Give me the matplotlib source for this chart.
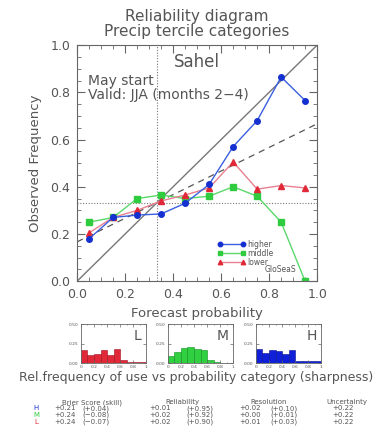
import numpy as np
import matplotlib.pyplot as plt
from matplotlib.ticker import MultipleLocator

# Forecast probability bins (bin centres)
prob = [0.05, 0.15, 0.25, 0.35, 0.45, 0.55, 0.65, 0.75, 0.85, 0.95]

# Observed frequency per bin for each tercile category
obs_higher = [0.18, 0.27, 0.28, 0.285, 0.33, 0.41, 0.57, 0.68, 0.865, 0.765]
obs_middle = [0.25, 0.27, 0.35, 0.365, 0.35, 0.36, 0.40, 0.36, 0.25, 0.0]
obs_lower = [0.205, 0.27, 0.30, 0.34, 0.365, 0.395, 0.505, 0.39, 0.405, 0.395]

# Relative frequency of use (sharpness) per bin
use_lower = [0.17, 0.11, 0.12, 0.17, 0.11, 0.18, 0.04, 0.013, 0.013, 0.01]
use_middle = [0.085, 0.14, 0.19, 0.21, 0.175, 0.165, 0.04, 0.017, 0.005, 0.0]
use_higher = [0.175, 0.13, 0.165, 0.15, 0.115, 0.17, 0.026, 0.026, 0.026, 0.026]

# Score table
cats = ["H", "M", "L"]
brier = ["+0.21", "+0.24", "+0.24"]
brier_skill = ["(+0.04)", "(\u22120.08)", "(\u22120.07)"]
reliab = ["+0.01", "+0.02", "+0.02"]
reliab_skill = ["(+0.95)", "(+0.92)", "(+0.90)"]
resol = ["+0.02", "+0.00", "+0.01"]
resol_skill = ["(+0.10)", "(+0.01)", "(+0.03)"]
uncert = ["+0.22", "+0.22", "+0.22"]

clim = 1.0 / 3.0
grey = "#555555"
blue = "#1530d0"
green = "#30cc40"
red = "#e02838"

plt.rcParams["font.family"] = "DejaVu Sans"
plt.rcParams["text.color"] = grey
plt.rcParams["axes.edgecolor"] = "#666666"
plt.rcParams["xtick.color"] = "#666666"
plt.rcParams["ytick.color"] = "#666666"
plt.rcParams["xtick.labelcolor"] = grey
plt.rcParams["ytick.labelcolor"] = grey

fig = plt.figure(figsize=(3.78, 4.38), dpi=100)

# Main reliability diagram
ax = fig.add_axes([0.204, 0.358, 0.635, 0.539])
ax.set_xlim(0, 1)
ax.set_ylim(0, 1)
ax.plot([0, 1], [0, 1], color="#777777", lw=1.0)
ax.plot([0, 1], [(0 + clim) / 2, (1 + clim) / 2], color="#555555", lw=0.9,
        dashes=(5, 4))
ax.axvline(clim, color="#777777", lw=0.8, ls=(0, (1, 1.5)))
ax.axhline(clim, color="#777777", lw=0.8, ls=(0, (1, 1.5)))

ax.plot(prob, obs_middle, color="#5ad86a", lw=1.0, marker="s", ms=4,
        mfc=green, mec=green, label="middle")
ax.plot(prob, obs_lower, color="#e88090", lw=1.0, marker="^", ms=4,
        mfc=red, mec=red, label="lower")
ax.plot(prob, obs_higher, color="#3a60e0", lw=1.0, marker="o", ms=4,
        mfc=blue, mec=blue, label="higher")

ax.xaxis.set_major_locator(MultipleLocator(0.2))
ax.xaxis.set_minor_locator(MultipleLocator(0.05))
ax.yaxis.set_major_locator(MultipleLocator(0.2))
ax.yaxis.set_minor_locator(MultipleLocator(0.05))
ax.tick_params(which="both", direction="in", top=True, right=True)
ax.tick_params(which="major", length=6, labelsize=9, pad=5)
ax.tick_params(which="minor", length=3)
ax.set_xticklabels(["%.1f" % v for v in ax.get_xticks()])
ax.set_yticklabels(["%.1f" % v for v in ax.get_yticks()])
ax.set_xlabel("Forecast probability", fontsize=9.5, color=grey, labelpad=4)
ax.set_ylabel("Observed Frequency", fontsize=9.5, color=grey, labelpad=6)

fig.text(0.52, 0.962, "Reliability diagram", ha="center", va="center",
         fontsize=11)
fig.text(0.52, 0.928, "Precip tercile categories", ha="center", va="center",
         fontsize=11)

ax.text(0.5, 0.93, "Sahel", ha="center", va="center", fontsize=12,
        transform=ax.transAxes)
ax.text(0.045, 0.847, "May start", ha="left", va="center", fontsize=10,
        transform=ax.transAxes)
ax.text(0.045, 0.788, "Valid: JJA (months 2\u22124)", ha="left", va="center",
        fontsize=10, transform=ax.transAxes)

handles, labels = ax.get_legend_handles_labels()
order = [2, 0, 1]
leg = ax.legend([handles[i] for i in order], [labels[i] for i in order],
                loc="upper left", bbox_to_anchor=(0.585, 0.174), frameon=False,
                fontsize=5.5, numpoints=2, handlelength=3.6, handletextpad=0.3,
                labelspacing=0.0, borderpad=0, borderaxespad=0)
for h in leg.legend_handles:
    h.set_markersize(3.2)
ax.text(0.78, 0.048, "GloSeaS", ha="left", va="center", fontsize=5.5,
        transform=ax.transAxes)

# Sharpness histograms
edges = np.array(prob) - 0.05
hist_specs = [
    (0.214, use_lower, "#e02838", "#a01020", "L"),
    (0.444, use_middle, "#30d040", "#109020", "M"),
    (0.677, use_higher, "#1020d8", "#0a1290", "H"),
]
for left, vals, fc, ec, tag in hist_specs:
    hx = fig.add_axes([left, 0.171, 0.173, 0.089])
    hx.bar(edges, vals, width=0.1, align="edge", color=fc, edgecolor=ec,
           linewidth=0.4)
    hx.set_xlim(0, 1)
    hx.set_ylim(0, 0.5)
    hx.set_xticks([0, 0.2, 0.4, 0.6, 0.8, 1.0])
    hx.set_xticklabels(["0", "0.2", "0.4", "0.6", "0.8", "1"])
    hx.set_yticks([0, 0.25, 0.5])
    hx.set_yticklabels(["0.00", "0.25", "0.50"])
    hx.xaxis.set_minor_locator(MultipleLocator(0.1))
    hx.tick_params(which="both", direction="in", top=True, right=True,
                   labelsize=3.2, pad=1.5, length=2, width=0.5)
    hx.tick_params(which="minor", length=1)
    for s in hx.spines.values():
        s.set_linewidth(0.6)
    hx.text(0.93, 0.88, tag, ha="right", va="top", fontsize=10,
            transform=hx.transAxes)

fig.text(0.52, 0.138, "Rel.frequency of use vs probability category (sharpness)",
         ha="center", va="center", fontsize=9)

# Score table (baseline-aligned rows)
fs = 5.0
head_y = 1 - 404.0 / 438
row_y = [1 - 410.5 / 438, 1 - 417.0 / 438, 1 - 423.5 / 438]
fig.text(0.243, head_y, "Brier Score (skill)", ha="center", va="baseline", fontsize=fs)
fig.text(0.482, head_y, "Reliability", ha="center", va="baseline", fontsize=fs)
fig.text(0.71, head_y, "Resolution", ha="center", va="baseline", fontsize=fs)
fig.text(0.918, head_y, "Uncertainty", ha="center", va="baseline", fontsize=fs)
cat_colors = [blue, green, red]
for i in range(3):
    y = row_y[i]
    fig.text(0.095, y, cats[i], ha="center", va="baseline", fontsize=fs,
             color=cat_colors[i])
    fig.text(0.143, y, brier[i], ha="left", va="baseline", fontsize=fs)
    fig.text(0.217, y, brier_skill[i], ha="left", va="baseline", fontsize=fs)
    fig.text(0.394, y, reliab[i], ha="left", va="baseline", fontsize=fs)
    fig.text(0.494, y, reliab_skill[i], ha="left", va="baseline", fontsize=fs)
    fig.text(0.632, y, resol[i], ha="left", va="baseline", fontsize=fs)
    fig.text(0.714, y, resol_skill[i], ha="left", va="baseline", fontsize=fs)
    fig.text(0.907, y, uncert[i], ha="center", va="baseline", fontsize=fs)

fig.savefig("out.png", dpi=100)
